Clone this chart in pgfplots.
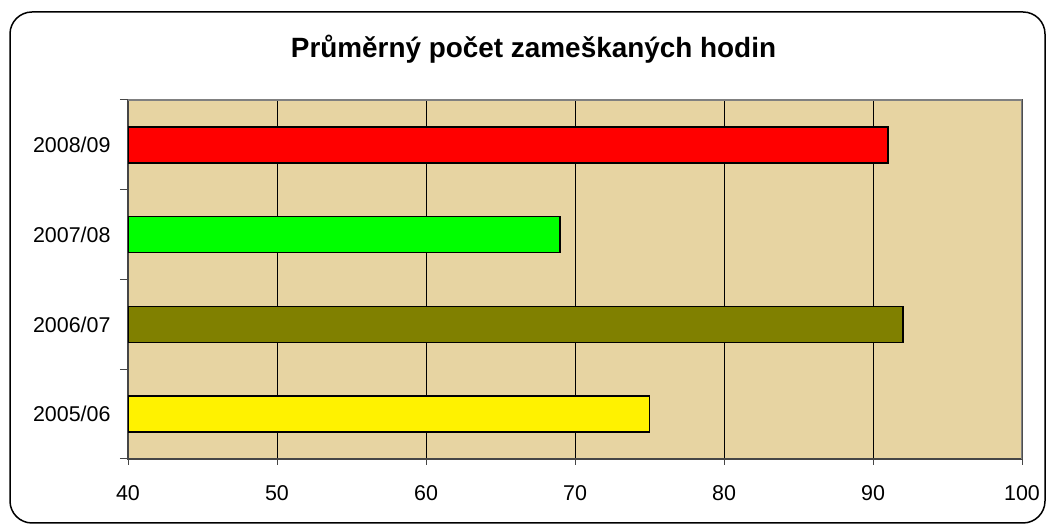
\documentclass[border=0pt]{standalone}
\usepackage{fontspec}
\setmainfont{Liberation Sans}
\usepackage{pgfplots}
\pgfplotsset{compat=1.18}
\definecolor{parch}{RGB}{231,212,162}
\definecolor{axgray}{RGB}{70,70,70}
\definecolor{olivebar}{RGB}{128,128,0}
\begin{document}
\begin{tikzpicture}[x=1bp,y=1bp]
\useasboundingbox (0,0) rectangle (1052,529);
\draw[line width=1.5bp, rounded corners=22bp] (10,6) rectangle (1045,517);
\node[font=\fontsize{28}{32}\selectfont\bfseries, anchor=base, inner sep=0pt] at (533.5,471) {Průměrný počet zameškaných hodin};
\begin{axis}[
  at={(128bp,70bp)}, anchor=south west,
  scale only axis, width=894bp, height=359bp,
  xmin=40, xmax=100, ymin=-0.5, ymax=3.5,
  xtick={40,50,...,100},
  ytick={0,1,2,3},
  yticklabels={2005/06,2006/07,2007/08,2008/09},
  minor ytick={-0.5,0.5,1.5,2.5,3.5},
  major y tick style={draw=none},
  minor y tick style={draw=axgray, line width=1bp},
  minor tick length=8bp,
  major x tick style={draw=axgray, line width=1bp},
  major tick length=6bp,
  tick align=outside,
  xtick pos=bottom, ytick pos=left,
  xmajorgrids=true,
  major grid style={draw=black, line width=0.8bp},
  axis background/.style={fill=parch},
  axis line style={draw=axgray, line width=1.5bp},
  tick label style={font=\fontsize{21.5}{25}\selectfont},
  /pgf/number format/assume math mode=true,
  xticklabel style={yshift=-17bp},
  yticklabel style={xshift=-8bp},
  xbar, bar width=36bp, bar shift=0pt,
]
\addplot[fill=yellow, draw=black, line width=1.5bp] coordinates {(75,0)};
\addplot[fill=olivebar, draw=black, line width=1.5bp] coordinates {(92,1)};
\addplot[fill=green, draw=black, line width=1.5bp] coordinates {(69,2)};
\addplot[fill=red, draw=black, line width=1.5bp] coordinates {(91,3)};
\draw[gray, line width=1.5bp] (rel axis cs:0,1) -- (rel axis cs:1,1) -- (rel axis cs:1,0);
\end{axis}
\end{tikzpicture}
\end{document}
